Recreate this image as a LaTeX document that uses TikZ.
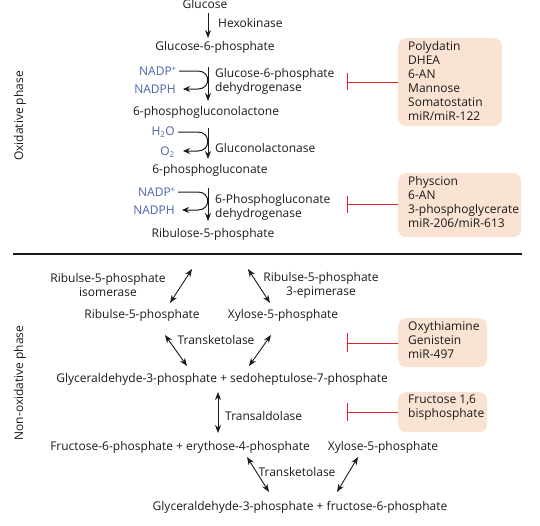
\documentclass[tikz,border=0pt]{standalone}
\usepackage{fontspec}
\setmainfont{Open Sans}
\usetikzlibrary{arrows.meta}
\definecolor{txt}{HTML}{1A1A1A}
\definecolor{nadp}{HTML}{4A64A8}
\definecolor{inh}{HTML}{E8202A}
\definecolor{boxfill}{HTML}{FBE3D3}
\begin{document}
\begin{tikzpicture}[x=1pt,y=-1pt,
  every node/.style={font=\fontsize{12}{14}\selectfont, text=txt, inner sep=0pt},
  met/.style={anchor=center},
  enz/.style={anchor=west, align=left},
  cof/.style={anchor=east, text=nadp},
  inhbox/.style={fill=boxfill, rounded corners=8pt, anchor=north west},
  inhtext/.style={anchor=north west, align=left},
  arr/.style={-{Stealth[length=8pt,width=6pt]}, line width=1pt, txt},
  darr/.style={{Stealth[length=8pt,width=6pt]}-{Stealth[length=8pt,width=6pt]}, line width=0.9pt, txt},
  side/.style={-{Stealth[length=7pt,width=6pt]}, line width=1pt, txt},
  tee/.style={inh, line width=1pt},
  phase/.style={rotate=90, font=\fontsize{12}{14}\selectfont}
]
\useasboundingbox (0,0) rectangle (540,525);

% ---------------- Oxidative phase ----------------
\node[phase] (oxlab) at (20,116) {Oxidative phase};

\node[met] (glc) at (205,4) {Glucose};
\node[met] (g6p) at (215,47) {Glucose-6-phosphate};
\node[met] (pgl) at (206,112) {6-phosphogluconolactone};
\node[met] (pg) at (210,170) {6-phosphogluconate};
\node[met] (ru5p) at (213,234) {Ribulose-5-phosphate};

\coordinate (a1s) at (208,13); \coordinate (a1e) at (208,38);
\draw[arr] (a1s) -- (a1e);
\node[enz] (hk) at (218,23) {Hexokinase};

\coordinate (a2s) at (208,67); \coordinate (a2e) at (208,101);
\draw[arr] (a2s) -- (a2e);
\node[enz] (g6pd) at (215,81) {Glucose-6-phosphate\\dehydrogenase};
\node[cof] (nadp1) at (177,71) {NADP\textsuperscript{+}};
\node[cof] (nadph1) at (176,89) {NADPH};
\coordinate (c1a) at (198,71); \coordinate (c1b) at (198,89);
\draw[side] (nadp1.east) ++(2,0) -- (c1a) .. controls (211,71) and (211,89) .. (c1b) -- ([xshift=7pt]nadph1.east);

\coordinate (a3s) at (208,128); \coordinate (a3e) at (208,159);
\draw[arr] (a3s) -- (a3e);
\node[enz] (glase) at (215,148) {Gluconolactonase};
\node[cof] (h2o) at (175,132) {H\textsubscript{2}O};
\node[cof] (o2) at (175,152) {O\textsubscript{2}};
\coordinate (c2a) at (198,132); \coordinate (c2b) at (198,151);
\draw[side] (h2o.east) ++(3,0) -- (c2a) .. controls (211,132) and (211,151) .. (c2b) -- ([xshift=8pt]o2.east |- c2b);

\coordinate (a4s) at (208,188); \coordinate (a4e) at (208,221);
\draw[arr] (a4s) -- (a4e);
\node[enz] (pgd) at (215,207) {6-Phosphogluconate\\dehydrogenase};
\node[cof] (nadp2) at (176,192) {NADP\textsuperscript{+}};
\node[cof] (nadph2) at (175,210) {NADPH};
\coordinate (c3a) at (198,192); \coordinate (c3b) at (198,210);
\draw[side] (nadp2.east) ++(2,0) -- (c3a) .. controls (211,192) and (211,210) .. (c3b) -- ([xshift=7pt]nadph2.east);

% inhibitor boxes (oxidative)
\node[inhbox, minimum width=104pt, minimum height=88pt] (box1) at (398,38) {};
\node[inhtext] (box1t) at (408,41) {Polydatin\\DHEA\\6-AN\\Mannose\\Somatostatin\\miR/miR-122};
\coordinate (t1) at (347,82);
\draw[tee] (box1.west |- t1) -- (t1);
\draw[tee] (347,73) -- (347,90);

\node[inhbox, minimum width=123pt, minimum height=64pt] (box2) at (398,173) {};
\node[inhtext] (box2t) at (408,176) {Physcion\\6-AN\\3-phosphoglycerate\\miR-206/miR-613};
\coordinate (t2) at (347,204);
\draw[tee] (box2.west |- t2) -- (t2);
\draw[tee] (347,196) -- (347,213);

% separator
\coordinate (sepL) at (13,254); \coordinate (sepR) at (522,254);
\draw[line width=1.3pt, txt] (sepL) -- (sepR);

% ---------------- Non-oxidative phase ----------------
\node[phase] (nonlab) at (20,383) {Non-oxidative phase};

\node[align=center] (rpi) at (108,285) {Ribulse-5-phosphate\\isomerase};
\node[align=center] (rpe) at (321,285) {Ribulse-5-phosphate\\3-epimerase};
\node[met] (r5p) at (142,315) {Ribulse-5-phosphate};
\node[met] (x5p) at (283,315) {Xylose-5-phosphate};
\coordinate (topL) at (192,269); \coordinate (topR) at (248,269);
\coordinate (r5pt) at (170,303); \coordinate (x5pt) at (270,303);
\draw[darr] (topL) -- (r5pt);
\draw[darr] (topR) -- (x5pt);

\node[met] (tk1) at (216,340) {Transketolase};
\coordinate (r5pb) at (165,335); \coordinate (x5pb) at (271,335);
\coordinate (g3pl) at (187,366); \coordinate (g3pr) at (249,366);
\draw[darr] (r5pb) -- (g3pl);
\draw[darr] (x5pb) -- (g3pr);
\node[met] (g3ps7p) at (222,379) {Glyceraldehyde-3-phosphate + sedoheptulose-7-phosphate};

\node[inhbox, minimum width=89pt, minimum height=49pt] (box3) at (398,318) {};
\node[inhtext] (box3t) at (408,321) {Oxythiamine\\Genistein\\miR-497};
\coordinate (t3) at (347,343);
\draw[tee] (box3.west |- t3) -- (t3);
\draw[tee] (347,333) -- (347,352);

\coordinate (ta1) at (218,392); \coordinate (ta2) at (218,433);
\draw[darr] (ta1) -- (ta2);
\node[enz] (tal) at (225,416) {Transaldolase};

\node[inhbox, minimum width=89pt, minimum height=40pt] (box4) at (398,392) {};
\node[inhtext] (box4t) at (408,395) {Fructose 1,6\\bisphosphate};
\coordinate (t4) at (347,412);
\draw[tee] (box4.west |- t4) -- (t4);
\draw[tee] (347,403) -- (347,421);

\node[met] (f6pe4p) at (180,447) {Fructose-6-phosphate + erythose-4-phosphate};
\node[met] (x5p2) at (383,447) {Xylose-5-phosphate};
\node[met] (tk2) at (297,472) {Transketolase};
\coordinate (e4pb) at (247,457); \coordinate (x5p2b) at (358,457);
\coordinate (g3pf6pl) at (269,492); \coordinate (g3pf6pr) at (337,492);
\draw[darr] (e4pb) -- (g3pf6pl);
\draw[darr] (x5p2b) -- (g3pf6pr);
\node[met] (g3pf6p) at (300,507) {Glyceraldehyde-3-phosphate + fructose-6-phosphate};
\end{tikzpicture}
\end{document}
